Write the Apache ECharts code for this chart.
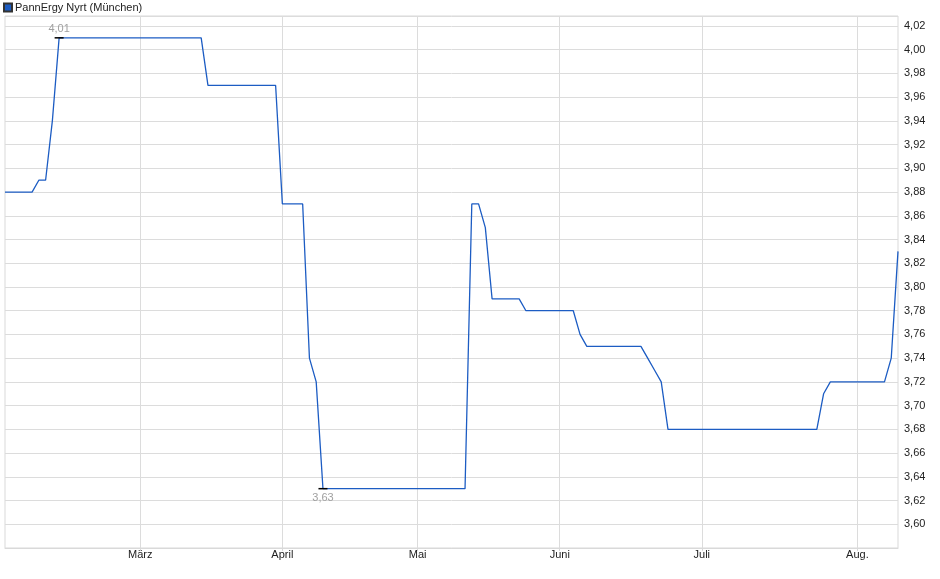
<!DOCTYPE html>
<html>
<head>
    <meta charset="utf-8">
    <title>PannErgy Nyrt (München)</title>
    <script src="https://cdn.jsdelivr.net/npm/echarts@6/dist/echarts.min.js"></script>
    <style>
        html, body { margin: 0; padding: 0; background: #fff; }
    </style>
</head>
<body>
    <div id="main" style="width: 940px;height:579px;"></div>
    <script type="text/javascript">
        // Handelstage 2025, je Monat die Tage
        var febDays = [3,4,5,6,7,10,11,12,13,14,17,18,19,20,21,24,25,26,27,28];
        var marDays = [3,4,5,6,7,10,11,12,13,14,17,18,19,20,21,24,25,26,27,28,31];
        var aprDays = [1,2,3,4,7,8,9,10,11,14,15,16,17,22,23,24,25,28,29,30];
        var mayDays = [2,5,6,7,8,9,12,13,14,15,16,19,20,21,22,23,26,27,28,29,30];
        var junDays = [2,3,4,5,6,9,10,11,12,13,16,17,18,19,20,23,24,25,26,27,30];
        var julDays = [1,2,3,4,7,8,9,10,11,14,15,16,17,18,21,22,23,24,25,28,29,30,31];
        var augDays = [1,4,5,6,7,8,11];

        // Monatsnamen fuer die x-Achse (Feb. wird nicht beschriftet)
        var monthLabels = ['', 'März', 'April', 'Mai', 'Juni', 'Juli', 'Aug.'];

        // Schlusskurse in EUR
        var prices = [
            3.88, 3.88, 3.88, 3.88, 3.88, 3.89, 3.89, 3.94, 4.01, 4.01,
            4.01, 4.01, 4.01, 4.01, 4.01, 4.01, 4.01, 4.01, 4.01, 4.01,
            4.01, 4.01, 4.01, 4.01, 4.01, 4.01, 4.01, 4.01, 4.01, 4.01,
            3.97, 3.97, 3.97, 3.97, 3.97, 3.97, 3.97, 3.97, 3.97, 3.97,
            3.97, 3.87, 3.87, 3.87, 3.87, 3.74, 3.72, 3.63, 3.63, 3.63,
            3.63, 3.63, 3.63, 3.63, 3.63, 3.63, 3.63, 3.63, 3.63, 3.63,
            3.63, 3.63, 3.63, 3.63, 3.63, 3.63, 3.63, 3.63, 3.63, 3.87,
            3.87, 3.85, 3.79, 3.79, 3.79, 3.79, 3.79, 3.78, 3.78, 3.78,
            3.78, 3.78, 3.78, 3.78, 3.78, 3.76, 3.75, 3.75, 3.75, 3.75,
            3.75, 3.75, 3.75, 3.75, 3.75, 3.74, 3.73, 3.72, 3.68, 3.68,
            3.68, 3.68, 3.68, 3.68, 3.68, 3.68, 3.68, 3.68, 3.68, 3.68,
            3.68, 3.68, 3.68, 3.68, 3.68, 3.68, 3.68, 3.68, 3.68, 3.68,
            3.68, 3.71, 3.72, 3.72, 3.72, 3.72, 3.72, 3.72, 3.72, 3.72,
            3.72, 3.74, 3.83
        ];

        // Kategorien (Datum) und Monatsanfaenge zusammenbauen
        var months = [febDays, marDays, aprDays, mayDays, junDays, julDays, augDays];
        var dates = [];
        var monthStart = {};
        for (var m = 0; m < months.length; m++) {
            monthStart[dates.length] = monthLabels[m];
            for (var d = 0; d < months[m].length; d++) {
                var dd = months[m][d] < 10 ? '0' + months[m][d] : '' + months[m][d];
                var mm = (m + 2) < 10 ? '0' + (m + 2) : '' + (m + 2);
                dates.push(dd + '.' + mm + '.2025');
            }
        }

        function isMonthStart(index) {
            return index > 0 && monthStart[index] !== undefined;
        }

        function comma(v) {
            return v.toFixed(2).replace('.', ',');
        }

        var myChart = echarts.init(document.getElementById('main'));

        var option = {
            animation: false,
            textStyle: { fontFamily: 'Arial, "Liberation Sans", sans-serif' },
            legend: {
                left: 3,
                top: 2,
                padding: 0,
                icon: 'rect',
                itemWidth: 8,
                itemHeight: 8,
                itemGap: 4,
                textStyle: { fontSize: 11, color: '#222', padding: [0, 0, 0, -2] },
                data: ['PannErgy Nyrt (München)']
            },
            grid: {
                left: 5,
                right: 42,
                top: 16,
                bottom: 31,
                show: true,
                borderColor: '#d9d9d9',
                borderWidth: 1
            },
            xAxis: {
                type: 'category',
                boundaryGap: false,
                data: dates,
                axisLine: { lineStyle: { color: '#d9d9d9' } },
                axisTick: {
                    show: true,
                    length: 3,
                    interval: function (index) { return isMonthStart(index); },
                    lineStyle: { color: '#d9d9d9' }
                },
                axisLabel: {
                    interval: function (index) { return isMonthStart(index); },
                    formatter: function (value, index) { return monthStart[index] || ''; },
                    fontSize: 11,
                    color: '#222',
                    margin: 1
                },
                splitLine: {
                    show: true,
                    interval: function (index) { return isMonthStart(index); },
                    lineStyle: { color: '#dcdcdc' }
                }
            },
            yAxis: {
                type: 'value',
                position: 'right',
                min: 3.58,
                max: 4.0284,
                interval: 0.02,
                axisLine: { show: false },
                axisTick: { show: false },
                axisLabel: {
                    showMinLabel: false,
                    showMaxLabel: false,
                    fontSize: 11,
                    color: '#222',
                    margin: 6,
                    formatter: function (v) { return comma(v); }
                },
                splitLine: { lineStyle: { color: '#dcdcdc' } }
            },
            series: [{
                name: 'PannErgy Nyrt (München)',
                type: 'line',
                data: prices,
                symbol: 'none',
                itemStyle: { color: '#1c5cc3', borderColor: '#333', borderWidth: 1 },
                lineStyle: { color: '#1c5cc3', width: 1.3 },
                markPoint: {
                    symbol: 'rect',
                    symbolSize: [9, 1.5],
                    itemStyle: { color: '#000', borderWidth: 0 },
                    label: {
                        fontSize: 11,
                        color: '#a0a0a0',
                        formatter: function (p) { return comma(p.value); }
                    },
                    data: [
                        { type: 'max', label: { position: 'top', distance: 3 } },
                        { type: 'min', label: { position: 'bottom', distance: 3 } }
                    ]
                }
            }]
        };

        myChart.setOption(option);
    </script>
</body>
</html>
